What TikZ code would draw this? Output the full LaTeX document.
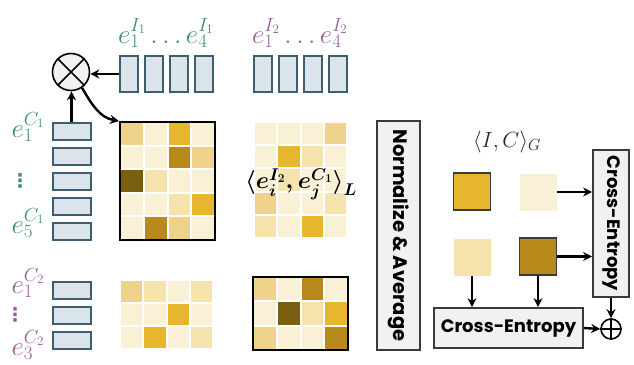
\RequirePackage{fix-cm}
\documentclass[tikz,border=0pt]{standalone}
\usepackage{fontspec}
\newfontfamily\gothic{Poppins}
\newfontfamily\dejavu{DejaVu Sans}
\usetikzlibrary{arrows.meta}
\DeclareMathSizes{27}{27}{19}{13}
\DeclareMathSizes{24}{24}{17}{12}
\DeclareMathSizes{22}{22}{16}{12}
\definecolor{cL}{HTML}{FAF0D6}
\definecolor{cLM}{HTML}{F5E2AC}
\definecolor{cM}{HTML}{F0D38A}
\definecolor{cG}{HTML}{E6B62E}
\definecolor{cD}{HTML}{B88A1C}
\definecolor{cB}{HTML}{7A5E12}
\definecolor{embF}{HTML}{DAE4EA}
\definecolor{embB}{HTML}{3D5E6E}
\definecolor{egreen}{HTML}{3E8B6E}
\definecolor{epurple}{HTML}{9C5B9C}
\definecolor{boxF}{HTML}{F1F1F1}
\definecolor{boxB}{HTML}{3A3A3A}
\newcommand\heatmap[5]{%
  \foreach \rw [count=\rr from 0] in {#5} {
    \foreach \cc [count=\kk from 0] in \rw {
      \fill[\cc] ({#1+\kk*#3+1},{#2+\rr*#4+1}) rectangle ++({#3-2},{#4-2});
    }}}
\newcommand\iplabel{\ensuremath{\bigg\langle e_i^{I_2}, e_j^{C_1}\bigg\rangle_{L}}}
\begin{document}
\begin{tikzpicture}[x=1pt,y=-1pt,
  embv/.style={draw=embB, fill=embF, line width=2pt, minimum width=18pt, minimum height=36pt, inner sep=0pt},
  embh/.style={draw=embB, fill=embF, line width=2pt, minimum width=38pt, minimum height=17pt, inner sep=0pt},
  arr/.style={-{Stealth[length=9pt,width=9pt]}, line width=2.4pt},
  matb/.style={draw=black, line width=2pt, inner sep=0pt},
  matn/.style={inner sep=0pt},
  gbox/.style={draw=boxB, fill=boxF, line width=1.8pt, inner sep=0pt},
  sqb/.style={draw=boxB, line width=1.8pt, minimum size=37pt, inner sep=0pt},
  sqn/.style={minimum size=37pt, inner sep=0pt},
  elab/.style={inner sep=0pt, font=\fontsize{27}{27}\selectfont},
  dlab/.style={inner sep=0pt, font=\dejavu\bfseries\fontsize{19}{19}\selectfont}
]
\useasboundingbox (0,0) rectangle (634,364);

% embedding boxes for I1 and I2
\foreach \i/\x in {1/129,2/154,3/179,4/204} \node[embv] (ia\i) at (\x,74) {};
\foreach \i/\x in {1/263,2/288,3/313,4/338} \node[embv] (ib\i) at (\x,74) {};
% C1 and C2
\foreach \i/\y in {1/131,2/156,3/181,4/206,5/231} \node[embh] (ca\i) at (71.5,\y) {};
\foreach \i/\y in {1/290,2/315,3/340} \node[embh] (cb\i) at (71.5,\y) {};

% labels
\node[elab, text=egreen] (lia) at (166,33) {$e_1^{I_1}\,{\ldots}\, e_4^{I_1}$};
\node[elab, text=epurple] (lib) at (300,33) {$e_1^{I_2}\,{\ldots}\, e_4^{I_2}$};
\node[elab, text=egreen] (lca1) at (28,127) {$e_1^{C_1}$};
\node[dlab, text=egreen] (lcad) at (20,181) {⋮};
\node[elab, text=egreen] (lca5) at (28,223) {$e_5^{C_1}$};
\node[elab, text=epurple] (lcb1) at (28,283) {$e_1^{C_2}$};
\node[dlab, text=epurple] (lcbd) at (15,315) {⋮};
\node[elab, text=epurple] (lcb3) at (28,345) {$e_3^{C_2}$};

% otimes
\node[circle, draw=black, fill=boxF, line width=1.6pt, minimum size=37pt, inner sep=0pt] (ot) at (71,72) {};
\draw[line width=1.6pt] (ot.north west) -- (ot.south east) (ot.north east) -- (ot.south west);

% matrices
\heatmap{120}{122}{23.75}{23.6}{{cM,cL,cG,cL},{cL,cL,cD,cM},{cB,cLM,cL,cL},{cL,cL,cLM,cG},{cL,cD,cM,cL}}
\node[matb, minimum width=95pt, minimum height=118pt] (m1) at (167.5,181) {};
\heatmap{254}{122}{23.25}{23.2}{{cL,cL,cL,cM},{cL,cG,cLM,cL},{cL,cLM,cL,cL},{cM,cL,cL,cLM},{cLM,cL,cG,cL}}
\node[matn, minimum width=93pt, minimum height=116pt] (m2) at (300.5,180) {};
\heatmap{120}{280}{23.25}{23}{{cM,cLM,cL,cLM},{cL,cL,cG,cL},{cL,cG,cL,cLM}}
\node[matn, minimum width=93pt, minimum height=69pt] (m3) at (166.5,314.5) {};
\heatmap{253}{277}{23.75}{24.3}{{cM,cL,cD,cL},{cL,cB,cLM,cG},{cM,cL,cL,cD}}
\node[matb, minimum width=95pt, minimum height=73pt] (m4) at (300.5,313.5) {};

\node[inner sep=0pt, font=\fontsize{24}{24}\selectfont\boldmath] (ip) at (301,184) {\iplabel};

% connectors left
\draw[arr] (ia1.west) -- (ot.east |- ia1.west);
\draw[arr] (ca1.north) -- (ca1.north |- ot.south);
\draw[arr] (ot.-55) to[out=-60, in=170] (m1.north west);

% right panel
\node[gbox, rotate=-90, minimum width=229pt, minimum height=43pt, font=\gothic\bfseries\fontsize{19.5}{19.5}\selectfont] (na) at (398.5,235.5) {Normalize \& Average};
\node[inner sep=0pt, font=\fontsize{22}{22}\selectfont, text=black!85] (gl) at (507,142) {$\langle I, C\rangle_G$};
\node[sqb, fill=cG] (s1) at (472,191.5) {};
\node[sqn, fill=cL] (s2) at (538.5,192) {};
\node[sqn, fill=cLM] (s3) at (472,257) {};
\node[sqb, fill=cD] (s4) at (538,256.5) {};
\node[gbox, rotate=-90, minimum width=147pt, minimum height=36pt, font=\gothic\bfseries\fontsize{18}{18}\selectfont] (ceR) at (611,223.5) {Cross-Entropy};
\node[gbox, minimum width=149pt, minimum height=40pt, font=\gothic\bfseries\fontsize{18}{18}\selectfont] (ceB) at (508.5,328) {Cross-Entropy};
\node[circle, draw=black, line width=1.6pt, minimum size=20pt, inner sep=0pt] (op) at (611,329) {};
\draw[line width=1.6pt] (op.north) -- (op.south) (op.west) -- (op.east);

\draw[arr] (s2.east) -- (s2.east -| ceR.south);
\draw[arr] (s4.east) -- (s4.east -| ceR.south);
\draw[arr] (s3.south) -- (s3.south |- ceB.north);
\draw[arr] (s4.south) -- (s4.south |- ceB.north);
\draw[arr] (ceB.east) -- (op.west);
\draw[arr] (ceR.east) -- (op.north);
\end{tikzpicture}
\end{document}
